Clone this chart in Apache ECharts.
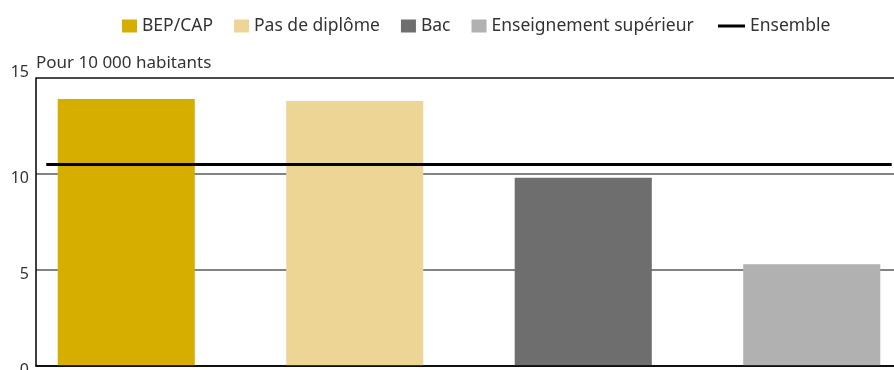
<!DOCTYPE html>
<html>
<head>
<meta charset="utf-8">
<script src="https://cdn.jsdelivr.net/npm/echarts@6/dist/echarts.min.js"></script>
<style>
  html, body { margin: 0; padding: 0; background: #fff; }
  #chart { width: 894px; height: 370px; }
</style>
</head>
<body>
<div id="chart"></div>
<script>
// Taux pour 10 000 habitants selon le niveau de diplôme
const categories = ['BEP/CAP', 'Pas de diplôme', 'Bac', 'Enseignement supérieur'];
const values = [13.9, 13.8, 9.8, 5.3];
const ensemble = [10.5];
const yTicks = [0, 5, 10, 15];
const unitLabel = 'Pour 10 000 habitants';

const colors = ['#D6AE00', '#ECD595', '#6E6E6E', '#B1B1B1'];
const FONT = '"Noto Sans", sans-serif';
const TEXT = '#333333';

// one series per category so each gets its own legend entry
const barSeries = categories.map((name, k) => ({
  name: name,
  type: 'bar',
  xAxisIndex: 0,
  yAxisIndex: 0,
  stack: 'diplome',
  barWidth: '60%',
  itemStyle: { color: colors[k] },
  data: categories.map((c, i) => (i === k ? values[k] : '-')),
  z: 2
}));

// horizontal extent of the "Ensemble" reference line, in category units
const spanPad = 0.15;
const ensembleSeries = {
  name: 'Ensemble',
  type: 'line',
  xAxisIndex: 1,
  yAxisIndex: 0,
  symbol: 'none',
  showSymbol: false,
  lineStyle: { color: '#000', width: 3 },
  itemStyle: { color: '#000' },
  data: [[-0.5 + spanPad, ensemble[0]], [categories.length - 0.5 - spanPad, ensemble[0]]],
  z: 4
};

const chart = echarts.init(document.getElementById('chart'), null, { renderer: 'canvas' });
chart.setOption({
  animation: false,
  textStyle: { fontFamily: FONT },
  legend: [
    {
      data: categories,
      left: 122,
      top: 17,
      padding: 0,
      itemWidth: 15,
      itemHeight: 13,
      itemGap: 21,
      icon: 'rect',
      textStyle: { fontFamily: FONT, fontSize: 17.5, color: TEXT },
      selectedMode: false
    },
    {
      data: [{ name: 'Ensemble', icon: 'path://M0,0h27v3H0z', itemStyle: { color: '#000' } }],
      left: 718,
      top: 17,
      padding: 0,
      itemWidth: 27,
      itemHeight: 3,
      textStyle: { fontFamily: FONT, fontSize: 17.5, color: TEXT },
      selectedMode: false
    }
  ],
  grid: [
    { left: 12, top: 78, width: 914, height: 288, outerBoundsMode: 'none', containLabel: false },
    { left: 36, top: 78, width: 858, height: 288, outerBoundsMode: 'none', containLabel: false }
  ],
  xAxis: [
    { type: 'category', gridIndex: 0, data: categories, show: false },
    { type: 'value', gridIndex: 0, min: -0.5, max: categories.length - 0.5, show: false },
    {
      type: 'category', gridIndex: 1, data: categories, z: 5,
      axisLine: { show: true, lineStyle: { color: '#000', width: 1.5 } },
      axisTick: { show: false },
      axisLabel: { show: false },
      splitLine: { show: false }
    }
  ],
  yAxis: [
    { type: 'value', gridIndex: 0, min: yTicks[0], max: yTicks[yTicks.length - 1], interval: 5, show: false },
    {
      type: 'value', gridIndex: 1,
      min: yTicks[0], max: yTicks[yTicks.length - 1], interval: 5,
      name: unitLabel,
      nameLocation: 'end',
      nameGap: 6,
      nameTextStyle: { fontFamily: FONT, fontSize: 17, color: TEXT, align: 'left', verticalAlign: 'bottom' },
      axisLine: { show: true, lineStyle: { color: '#000', width: 1.5 } },
      axisTick: { show: false },
      axisLabel: {
        margin: 7,
        fontFamily: FONT,
        fontSize: 16,
        color: TEXT,
        padding: [8, 0, 0, 0],
        formatter: v => (v === yTicks[yTicks.length - 1] ? '{top|' + v + '}' : String(v)),
        rich: { top: { fontFamily: FONT, fontSize: 16, color: TEXT, padding: [0, 0, 19, 0] } }
      },
      splitLine: {
        show: true,
        lineStyle: { color: ['#000', '#5a5a5a', '#5a5a5a', '#111'], width: 1.5 }
      }
    }
  ],
  series: [...barSeries, ensembleSeries]
});
</script>
</body>
</html>
